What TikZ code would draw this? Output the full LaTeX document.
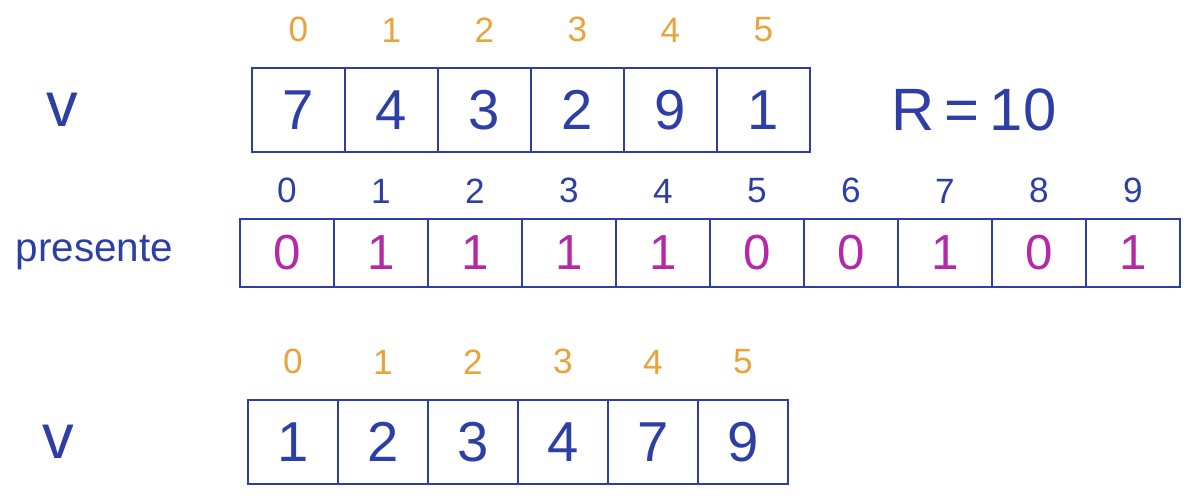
\documentclass[tikz,border=0pt]{standalone}
\usepackage{fontspec}
\setmainfont{Liberation Sans}
\usepackage{tikz}
\usetikzlibrary{positioning}
\definecolor{inkblue}{RGB}{45,62,165}
\definecolor{inkorange}{RGB}{232,163,58}
\definecolor{inkpink}{RGB}{182,40,168}

\begin{document}
\begin{tikzpicture}[
        x=0.01cm, y=-0.01cm,
        cell/.style={draw=inkblue, line width=0.6pt, inner sep=0pt, text=inkblue, font=\fontsize{16}{18}\selectfont},
        bit/.style={cell, text=inkpink, font=\fontsize{14}{16}\selectfont},
        idx/.style={inner sep=0pt, text=inkorange, font=\fontsize{10}{12}\selectfont},
        pidx/.style={idx, text=inkblue},
        lab/.style={inner sep=0pt, text=inkblue, font=\fontsize{18}{20}\selectfont}
    ]
    \useasboundingbox (0,0) rectangle (1194,498);
    % vetor original
    \foreach \val [count=\i from 0] in {7,4,3,2,9,1} {
        \node[cell, minimum width=0.93cm, minimum height=0.84cm] (v\i) at ({298.5+93*\i},110) {\val};
        \node[idx, above=0.24cm of v\i] (vi\i) {\i};
    }
    \node[lab, left=1.72cm of v0] (vlab) {v};
    \node[lab, font=\fontsize{17}{20}\selectfont, right=0.8cm of v5] (range) {R\,=\,10};
    % vetor presente
    \foreach \val [count=\i from 0] in {0,1,1,1,1,0,0,1,0,1} {
        \node[bit, minimum width=0.94cm, minimum height=0.68cm] (p\i) at ({287+94*\i},253) {\val};
        \node[pidx, above=0.14cm of p\i] (pi\i) {\i};
    }
    \node[lab, font=\fontsize{11.5}{14}\selectfont, left=0.65cm of p0] (plab) {presente};
    % vetor ordenado
    \foreach \val [count=\i from 0] in {1,2,3,4,7,9} {
        \node[cell, minimum width=0.9cm, minimum height=0.84cm] (w\i) at ({293+90*\i},442) {\val};
        \node[idx, above=0.24cm of w\i] (wi\i) {\i};
    }
    \node[lab, left=1.72cm of w0] (wlab) {v};
\end{tikzpicture}
\end{document}
